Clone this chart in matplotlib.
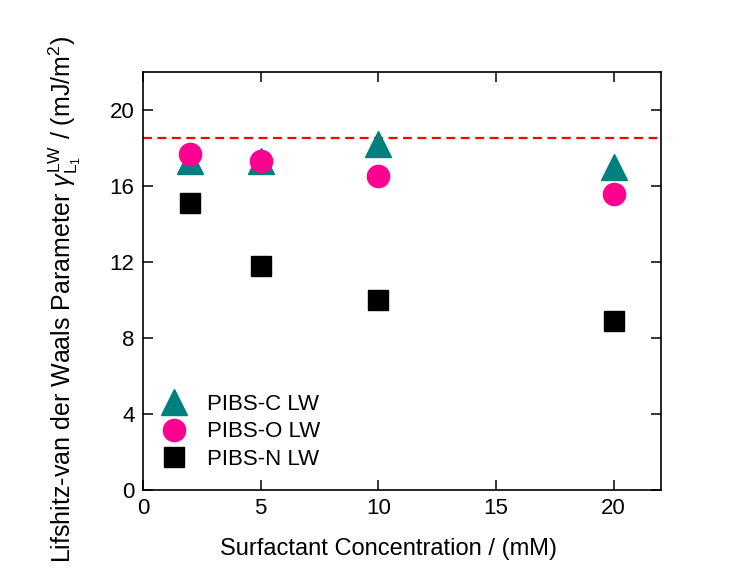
import matplotlib
matplotlib.use("Agg")
import matplotlib.pyplot as plt

plt.rcParams['font.family'] = ['Liberation Sans', 'DejaVu Sans']
plt.rcParams['mathtext.fontset'] = 'custom'
plt.rcParams['mathtext.rm'] = 'Liberation Sans'
plt.rcParams['mathtext.it'] = 'Liberation Sans:italic'

# surfactant concentration (mM)
conc = [2, 5, 10, 20]

# LW component for each surfactant
pibs_c = [17.3, 17.3, 18.2, 17.0]
pibs_o = [17.7, 17.3, 16.5, 15.6]
pibs_n = [15.1, 11.8, 10.0, 8.9]

# reference value of the liquid
ref_lw = 18.5

fig = plt.figure(figsize=(7.56, 5.79), dpi=100)
ax = fig.add_axes([0.189, 0.1537, 0.685, 0.722])

ax.axhline(ref_lw, color='red', ls=(0, (4, 2.5)), lw=1.6, zorder=1)

ax.plot(conc, pibs_c, ls='none', marker='^', ms=19, color='#007f7f',
        mec='#007f7f', label='PIBS-C LW', zorder=2)
ax.plot(conc, pibs_o, ls='none', marker='o', ms=16, color='#ff0090',
        mec='#ff0090', label='PIBS-O LW', zorder=3)
ax.plot(conc, pibs_n, ls='none', marker='s', ms=14.5, color='black',
        label='PIBS-N LW', zorder=3)

ax.set_xlim(0, 22)
ax.set_ylim(0, 22)
ax.set_xticks([0, 5, 10, 15, 20])
ax.set_yticks([0, 4, 8, 12, 16, 20])
ax.tick_params(direction='in', length=7, width=1.1, labelsize=16,
               top=True, right=True, pad=6)
for s in ax.spines.values():
    s.set_linewidth(1.2)

ax.set_xlabel('Surfactant Concentration / (mM)', fontsize=17)
ax.set_ylabel(r'Lifshitz-van der Waals Parameter $\gamma_{\mathrm{L}_1}^{\mathrm{LW}}$ / (mJ/m$^2$)',
              fontsize=18)
ax.xaxis.set_label_coords(0.475, -0.115)
ax.yaxis.set_label_coords(-0.115, 0.455)

ax.legend(loc='lower left', bbox_to_anchor=(-0.012, 0.0), frameon=False,
          fontsize=16, handletextpad=0.65, labelspacing=0.3,
          borderaxespad=0.5, markerscale=1.0, handlelength=1.6)

fig.savefig('out.png', dpi=100)
